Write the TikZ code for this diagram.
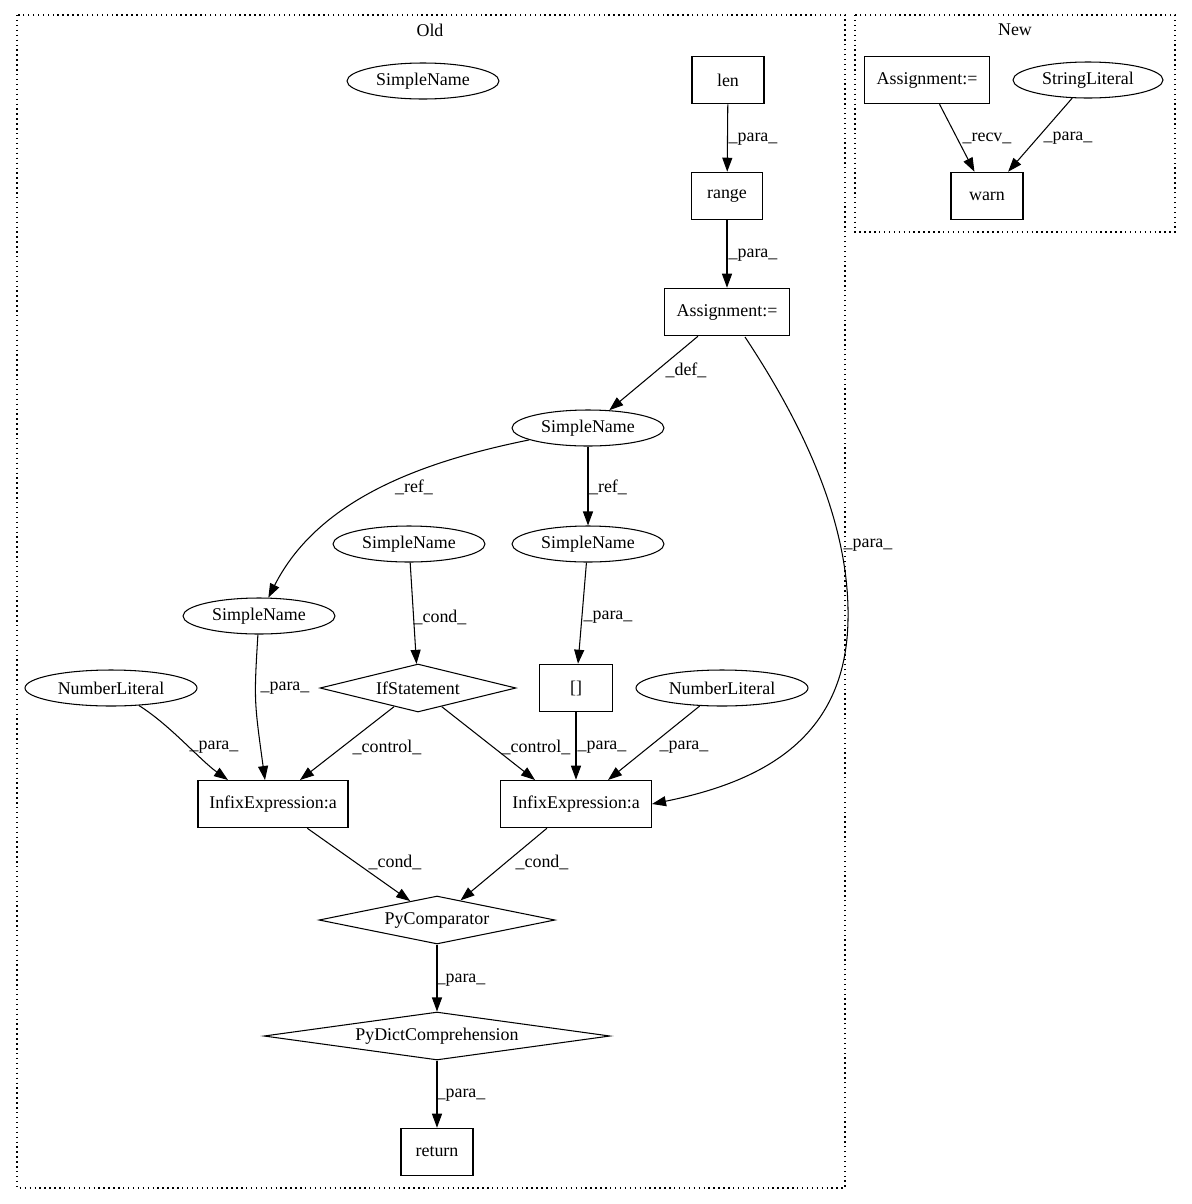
\documentclass[tikz,border=0pt]{standalone}
\usepackage{fontspec}
\setmainfont{Liberation Serif}
\usetikzlibrary{arrows.meta,shapes.geometric}

\begin{document}
\begin{tikzpicture}[x=0.02cm,y=-0.02cm,
  every node/.style={font=\fontsize{10.2}{12}\selectfont},
  box/.style={draw,rectangle,minimum height=0.95cm,inner sep=2pt,line width=0.6pt},
  oval/.style={draw,ellipse,minimum width=3.04cm,minimum height=0.72cm,inner sep=1pt,line width=0.6pt},
  cond/.style={draw,diamond,aspect=7,inner sep=0pt,minimum height=0.96cm,line width=0.6pt},
  lab/.style={inner sep=1pt},
  flow/.style={-{Triangle[length=2.8mm,width=2mm]},line width=0.6pt},
  cluster/.style={dotted,line width=0.8pt}]

  \useasboundingbox (0,0) rectangle (1191,1204);

  % clusters
  \draw[cluster] (17,15) rectangle (845,1188);
  \node (oldlab) at (430,30) {Old};
  \draw[cluster] (855,15) rectangle (1175,232);
  \node (newlab) at (1015,30) {New};

  % old graph
  \node[oval] (sn0) at (423,81) {SimpleName};
  \node[box,minimum width=1.44cm] (len) at (728,80) {len};
  \node[box,minimum width=1.42cm] (range) at (727,196) {range};
  \node[box,minimum width=2.5cm] (asg) at (727,312) {Assignment:=};
  \node[oval] (snd) at (588,428) {SimpleName};
  \node[oval] (snr) at (588,544) {SimpleName};
  \node[oval] (snc) at (409,544) {SimpleName};
  \node[oval] (snl) at (259,616) {SimpleName};
  \node[cond,minimum width=3.92cm] (ifs) at (418,688) {IfStatement};
  \node[box,minimum width=1.46cm] (idx) at (576,688) {[]};
  \node[oval,minimum width=3.44cm] (nll) at (111,688) {NumberLiteral};
  \node[oval,minimum width=3.44cm] (nlr) at (722,688) {NumberLiteral};
  \node[box,minimum width=3.0cm] (infl) at (273,804) {InfixExpression:a};
  \node[box,minimum width=3.02cm] (infr) at (576,804) {InfixExpression:a};
  \node[cond,minimum width=4.72cm] (cmp) at (437,920) {PyComparator};
  \node[cond,minimum width=6.92cm] (dict) at (437,1036) {PyDictComprehension};
  \node[box,minimum width=1.44cm] (ret) at (437,1152) {return};

  % new graph
  \node[box,minimum width=2.5cm] (asgn) at (927,80) {Assignment:=};
  \node[oval,minimum width=3.0cm] (str) at (1088,80) {StringLiteral};
  \node[box,minimum width=1.44cm] (warn) at (987,196) {warn};

  % edges
  \draw[flow] (len) -- (range) node[lab] (l1) at (753,139) {\_para\_};
  \draw[flow] (range) -- (asg) node[lab] (l2) at (753,255) {\_para\_};
  \draw[flow] (asg) -- (snd) node[lab] (l3) at (686,370) {\_def\_};
  \draw[flow] (745,337) .. controls (800,420) and (850,520) .. (848,620)
    .. controls (846,740) and (760,782) .. (infr.east)
    node[lab] (l4) at (868,545) {\_para\_};
  \draw[flow] (snd) .. controls (420,462) and (318,500) .. (snl)
    node[lab] (l5) at (414,487) {\_ref\_};
  \draw[flow] (snd) -- (snr) node[lab] (l6) at (608,487) {\_ref\_};
  \draw[flow] (snc) -- (ifs) node[lab] (l7) at (440,617) {\_cond\_};
  \draw[flow] (snr) -- (idx) node[lab] (l8) at (608,617) {\_para\_};
  \draw[flow] (snl) .. controls (254,700) .. (265,780) node[lab] (l9) at (285,688) {\_para\_};
  \draw[flow] (nll) .. controls (170,725) and (200,760) .. (228,780)
    node[lab] (l10) at (214,747) {\_para\_};
  \draw[flow] (ifs) -- (300,780) node[lab] (l11) at (387,747) {\_control\_};
  \draw[flow] (ifs) -- (535,780) node[lab] (l12) at (536,747) {\_control\_};
  \draw[flow] (idx) -- (infr) node[lab] (l13) at (602,747) {\_para\_};
  \draw[flow] (nlr) -- (608,780) node[lab] (l14) at (684,747) {\_para\_};
  \draw[flow] (infl) -- (cmp) node[lab] (l15) at (395,862) {\_cond\_};
  \draw[flow] (infr) -- (cmp) node[lab] (l16) at (542,862) {\_cond\_};
  \draw[flow] (cmp) -- (dict) node[lab] (l17) at (461,980) {\_para\_};
  \draw[flow] (dict) -- (ret) node[lab] (l18) at (461,1095) {\_para\_};
  \draw[flow] (asgn) -- (warn) node[lab] (l19) at (987,138) {\_recv\_};
  \draw[flow] (str) -- (warn) node[lab] (l20) at (1068,138) {\_para\_};
\end{tikzpicture}
\end{document}
